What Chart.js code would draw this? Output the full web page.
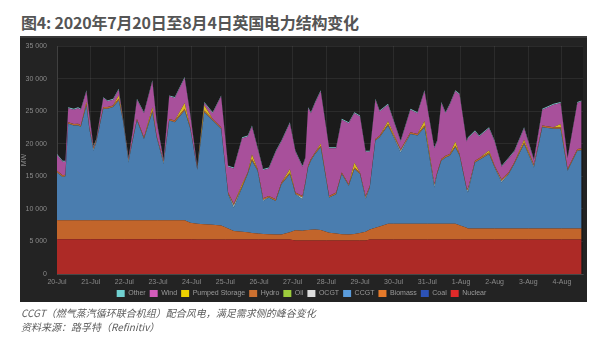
<!DOCTYPE html>
<html lang="zh">
<head>
<meta charset="UTF-8">
<title>英国电力结构变化</title>
<script src="https://cdn.jsdelivr.net/npm/chart.js"></script>
<style>
  body { margin: 0; background: #fff; width: 600px; height: 338px; position: relative; overflow: hidden; }
  #titulo { position: absolute; left: 21px; top: 10px; font: bold 16px "Noto Sans CJK SC", sans-serif; color: #555; letter-spacing: -0.2px; }
  #panel { position: absolute; left: 20px; top: 36px; width: 567px; height: 266px; background: #232323; border-top: 2px solid #3a3a3a; box-sizing: border-box; }
  #grafica { position: absolute; left: 0; top: 0; }
  .nota { position: absolute; left: 21px; font: italic 10px "Noto Sans CJK SC", sans-serif; color: #5c5c5c; }
</style>
</head>
<body>
  <div id="titulo">图4: 2020年7月20日至8月4日英国电力结构变化</div>
  <div id="panel"></div>
  <canvas id="grafica" width="600" height="338"></canvas>
  <div class="nota" style="top:305px">CCGT（燃气蒸汽循环联合机组）配合风电，满足需求侧的峰谷变化</div>
  <div class="nota" style="top:319px">资料来源：路孚特（Refinitiv）</div>

  <script>
    // hours since 20-Jul 00:00
    const horas = [0,4,6,8,12,15,17,21,23,26,28,33,36,40,44,47,51,54,57,62,68,71,76,80,84,91,95,100,105,111,117,122,126,132,136,139,143,147,151,156,160,166,170,175,177,179,181,184,188,194,199,203,208,212,216,220,223,227,230,236,245,252,257,262,269,271,274,277,280,284,287,292,293,298,301,308,312,317,322,326,333,340,346,354,359,364,371,374];
    const dias = ['20-Jul','21-Jul','22-Jul','23-Jul','24-Jul','25-Jul','26-Jul','27-Jul','28-Jul','29-Jul','30-Jul','31-Jul','1-Aug','2-Aug','3-Aug','4-Aug'];

    // MW, bottom of stack first
    const nuclear = [5350,5350,5350,5350,5350,5350,5350,5350,5350,5350,5350,5350,5350,5350,5350,5350,5350,5350,5350,5350,5350,5350,5350,5350,5350,5350,5350,
      5300,5300,5300,5300,5300,5300,5300,5300,5300,5300,5300,5300,5300,5300,5300,
      5150,5150,5150,5150,5150,5150,5150,5150,5150,5150,5150,5150,5150,5150,
      5300,5300,5300,5300,5300,5300,5300,5300,5300,5300,5300,5300,5300,5300,5300,5300,5300,5300,5300,5300,5300,5300,5300,5300,5300,5300,5300,5300,5300,5300,5300,5300];
    const coal = [0,0,0,0,0,0,0,0,0,0,0,0,0,0,0,0,0,0,0,0,0,0,0,0,0,0,0,0,0,0,0,0,0,0,0,0,0,0,0,0,0,0,0,0,0,0,0,0,0,0,0,0,0,0,0,0,0,0,0,0,0,0,0,0,0,0,0,0,0,0,0,0,0,0,0,0,0,0,0,0,0,0,0,0,0,0,0,0];
    const biomass = [2890,2890,2890,2890,2890,2890,2890,2890,2890,2890,2890,2890,2890,2890,2890,2890,2890,2890,2890,2890,2890,2890,2890,2890,2890,2890,2500,
      2420,2350,2250,2160,1700,1290,1200,1100,1000,900,850,800,770,770,1100,
      1550,1500,1550,1600,1650,1700,1600,1180,1050,950,930,1000,1150,1350,
      1550,1800,2000,2400,2420,2420,2420,2420,2420,2420,2420,2420,2420,2420,2200,1800,1700,
      1700,1700,1700,1700,1700,1700,1700,1700,1700,1700,1700,1700,1700,1700,1700];
    const ccgt = [7350,6660,6760,14810,14550,14560,14360,17640,14040,10690,
      11980,17130,17130,17380,18410,15320,8890,12240,15320,12500,
      16600,12750,8630,15320,15060,16860,14430,8280,17190,16010,
      14820,5250,3590,6770,8940,11090,9650,5070,5630,5150,
      7720,8940,5550,4830,7090,9610,10590,11570,12690,5400,
      6050,9240,7450,9960,9040,4980,6420,13380,13690,15090,
      10950,13790,13530,14810,5550,7620,9670,10180,10440,11720,
      10660,5900,5500,10130,10500,11420,9360,7040,8340,9880,
      12960,9360,15530,15280,15280,8850,11930,12000];
    const ocgt = [0,0,0,0,0,0,0,0,0,200,0,0,0,0,0,0,200,0,0,0,0,0,200,0,0,0,0,0,0,0,0,0,300,0,0,0,0,150,0,0,0,0,0,250,0,0,0,0,0,0,0,0,0,0,0,200,0,0,0,0,200,0,0,0,300,0,0,0,0,0,0,0,300,0,0,0,0,200,0,0,0,150,0,0,0,0,0,0];
    const oil = [0,0,0,0,0,0,0,0,0,0,0,0,0,0,0,0,0,0,0,0,0,0,0,0,0,0,0,0,0,0,0,0,0,0,0,0,0,0,0,0,0,0,0,0,0,0,0,0,0,0,0,0,0,0,0,0,0,0,0,0,0,0,0,0,0,0,0,0,0,0,0,0,0,0,0,0,0,0,0,0,0,0,0,0,0,0,0,0];
    const hydro = [250,250,250,250,250,250,250,250,250,250,250,250,250,250,250,250,250,250,250,250,250,250,250,250,250,250,250,250,250,250,250,250,250,250,250,250,250,250,250,250,250,250,250,250,250,250,250,250,250,250,250,250,250,250,250,250,250,250,250,250,250,250,250,250,250,250,250,250,250,250,250,250,250,250,250,250,250,250,250,250,250,250,250,250,250,250,250,250];
    const pumped = [0,0,0,0,0,0,0,300,0,0,0,0,0,0,500,0,0,0,0,0,500,0,0,0,0,900,0,0,800,0,0,0,0,300,0,700,0,0,0,0,0,500,0,0,0,0,0,0,300,0,0,0,0,700,0,0,0,0,0,400,0,0,0,700,0,0,0,0,0,600,0,0,0,0,0,300,0,0,0,0,400,0,0,0,500,0,0,0];
    const wind = [2430,2090,2000,2150,2180,2400,2370,1610,1910,100,
      100,1380,880,890,900,110,170,1140,2950,3700,
      3990,2170,100,3460,3460,3840,1910,100,350,880,
      4740,3970,5480,7020,5510,4300,3190,4340,4230,7310,
      6290,7060,6280,4490,3710,8850,7050,7570,8050,7310,
      6790,8080,9370,7630,8590,6850,5260,6030,3710,2550,
      1210,3450,3190,4560,5470,4740,8600,6540,7580,7750,
      9120,7080,7800,4490,3350,3410,3720,1980,2160,1650,
      1770,740,2430,3460,3210,1650,7060,7250];
    const other = [150,150,150,150,150,150,150,150,150,150,150,150,150,150,150,150,150,150,150,150,150,150,150,150,150,150,150,150,150,150,150,150,150,150,150,150,150,150,150,150,150,150,150,150,150,150,150,150,150,150,150,150,150,150,150,150,150,150,150,150,150,150,150,150,150,150,150,150,150,150,150,150,150,150,150,150,150,150,150,150,150,150,150,150,150,150,150,150];

    const series = [
      { label: 'Nuclear', data: nuclear, fill: '#ad2a26', legend: '#e02a2a' },
      { label: 'Coal', data: coal, fill: '#27489a', legend: '#2c52b8' },
      { label: 'Biomass', data: biomass, fill: '#c2652b', legend: '#e67a2a' },
      { label: 'CCGT', data: ccgt, fill: '#4a7daf', legend: '#5a9cdc' },
      { label: 'OCGT', data: ocgt, fill: '#a9d1d8', legend: '#dcdcdc' },
      { label: 'Oil', data: oil, fill: '#8ab040', legend: '#9ccc3c' },
      { label: 'Hydro', data: hydro, fill: '#b8672e', legend: '#cc7030' },
      { label: 'Pumped Storage', data: pumped, fill: '#d9b722', legend: '#ecd000' },
      { label: 'Wind', data: wind, fill: '#a8509b', legend: '#d25cba' },
      { label: 'Other', data: other, fill: '#78c6c8', legend: '#70d0d0' }
    ];

    const fondoPlot = {
      id: 'fondoPlot',
      beforeDraw(chart) {
        const { ctx, chartArea: a } = chart;
        ctx.save();
        ctx.fillStyle = '#1b1b1b';
        ctx.fillRect(a.left, a.top, a.right - a.left, a.bottom - a.top);
        ctx.restore();
      }
    };

    const miles = v => String(v).replace(/\B(?=(\d{3})+(?!\d))/g, ' ');

    new Chart(document.getElementById('grafica'), {
      type: 'line',
      data: {
        datasets: series.map((s, i) => ({
          label: s.label,
          data: horas.map((h, k) => ({ x: h, y: s.data[k] })),
          backgroundColor: s.fill,
          borderColor: s.fill,
          borderWidth: 0,
          pointRadius: 0,
          tension: 0,
          fill: i === 0 ? 'origin' : '-1'
        }))
      },
      options: {
        responsive: false,
        animation: false,
        layout: { padding: { top: 46, right: 17, left: 20, bottom: 31 } },
        plugins: {
          tooltip: { enabled: false },
          legend: {
            position: 'bottom',
            reverse: true,
            labels: {
              color: '#9a9a9a',
              font: { size: 7, family: 'Liberation Sans' },
              boxWidth: 8,
              boxHeight: 7,
              padding: 4,
              generateLabels(chart) {
                const items = Chart.defaults.plugins.legend.labels.generateLabels(chart);
                items.forEach(it => {
                  it.fillStyle = series[it.datasetIndex].legend;
                  it.strokeStyle = series[it.datasetIndex].legend;
                  it.lineWidth = 0;
                });
                return items;
              }
            }
          }
        },
        scales: {
          x: {
            type: 'linear',
            min: 0,
            max: 375,
            afterFit(axis) { axis.height = 12; },
            grid: { color: 'rgba(255,255,255,0.07)', drawTicks: false },
            border: { color: 'rgba(255,255,255,0.1)' },
            ticks: {
              stepSize: 24,
              includeBounds: false,
              autoSkip: false,
              maxRotation: 0,
              padding: 4,
              color: '#8a8a8a',
              font: { size: 7, family: 'Liberation Sans' },
              callback: v => dias[v / 24]
            }
          },
          y: {
            stacked: true,
            min: 0,
            max: 35000,
            afterFit(axis) { axis.width = 37; },
            grid: { color: 'rgba(255,255,255,0.07)', drawTicks: false },
            border: { color: 'rgba(255,255,255,0.1)' },
            title: { display: true, text: 'MW', color: '#8a8a8a', font: { size: 7, family: 'Liberation Sans' }, padding: 0 },
            ticks: {
              stepSize: 5000,
              padding: 10,
              color: '#8a8a8a',
              font: { size: 7, family: 'Liberation Sans' },
              callback: v => miles(v)
            }
          }
        }
      },
      plugins: [fondoPlot]
    });
  </script>
</body>
</html>
